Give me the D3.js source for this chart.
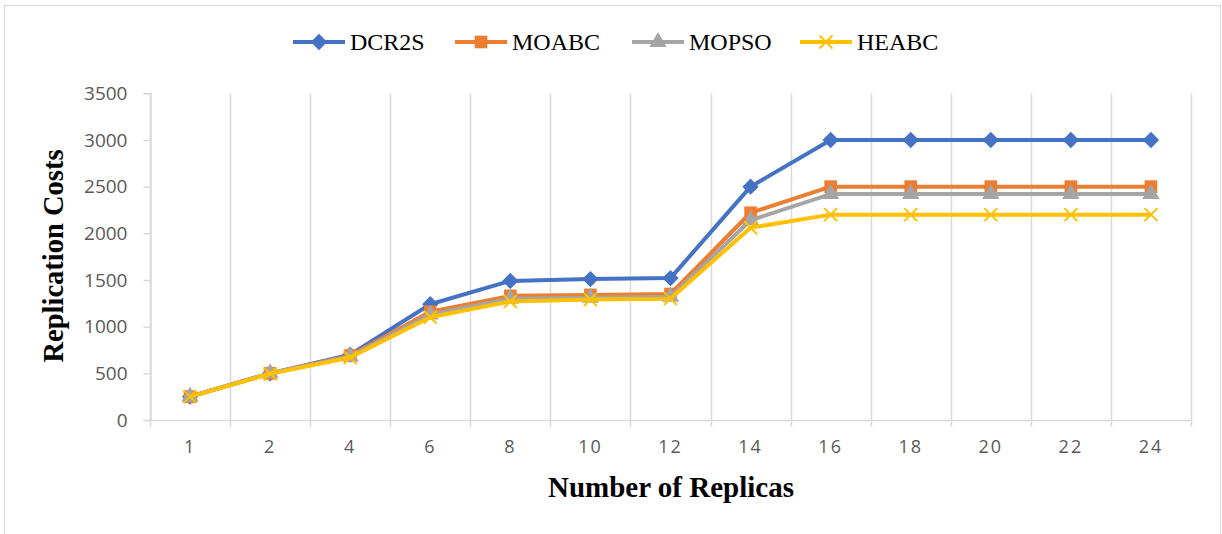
<!DOCTYPE html>
<html><head><meta charset="utf-8">
<script src="https://cdn.jsdelivr.net/npm/d3@7"></script>
<style>
body{margin:0;background:#fff;}
svg{display:block;}
</style></head>
<body>
<svg id="chart" width="1222" height="534"></svg>
<script>
const categories = ["1","2","4","6","8","10","12","14","16","18","20","22","24"];
const dcr2s = [250,500,700,1240,1490,1510,1520,2500,3000,3000,3000,3000,3000];
const moabc = [250,500,690,1160,1330,1340,1350,2220,2500,2500,2500,2500,2500];
const mopso = [250,500,680,1130,1300,1310,1320,2140,2420,2420,2420,2420,2420];
const heabc = [250,495,670,1100,1270,1290,1300,2060,2200,2200,2200,2200,2200];
const yTicks = [0,500,1000,1500,2000,2500,3000,3500];
const seriesNames = ["DCR2S","MOABC","MOPSO","HEABC"];

const series = [
  {name:seriesNames[0], values:dcr2s, color:"#4472C4", marker:"diamond"},
  {name:seriesNames[1], values:moabc, color:"#ED7D31", marker:"square"},
  {name:seriesNames[2], values:mopso, color:"#A5A5A5", marker:"triangle"},
  {name:seriesNames[3], values:heabc, color:"#FFC000", marker:"x"}
];

const svg = d3.select("#chart");
const pLeft=150, pRight=1191, pTop=93.3, pBottom=420;
const grid="#d9d9d9";

// outer border
svg.append("rect").attr("x",4.5).attr("y",5.5).attr("width",1216).attr("height",540)
  .attr("fill","none").attr("stroke",grid).attr("stroke-width",1);

const x = d3.scaleBand().domain(categories).range([pLeft,pRight]).paddingInner(0).paddingOuter(0);
const y = d3.scaleLinear().domain([0,3500]).range([pBottom,pTop]);

// vertical gridlines at category boundaries
const bounds = categories.map(c=>x(c)).concat([x(categories[categories.length-1])+x.bandwidth()]);
svg.append("g").selectAll("line").data(bounds).join("line")
  .attr("x1",d=>Math.round(d)+0.5).attr("x2",d=>Math.round(d)+0.5)
  .attr("y1",pTop).attr("y2",pBottom+7)
  .attr("stroke",grid).attr("stroke-width",1.5);

// y axis
const yAxis = svg.append("g").attr("transform",`translate(${pLeft+0.5},0)`)
  .call(d3.axisLeft(y).tickValues(yTicks).tickSize(7).tickPadding(16).tickFormat(d3.format("d")));
yAxis.select(".domain").attr("stroke",grid).attr("stroke-width",1.5);
yAxis.selectAll(".tick line").attr("stroke",grid).attr("stroke-width",1.5);
yAxis.selectAll("text").attr("fill","#595959").style("font-family","'Open Sans', sans-serif").style("font-size","19px");

// x axis
const xAxis = svg.append("g").attr("transform",`translate(0,${pBottom})`)
  .call(d3.axisBottom(x).tickSize(0).tickPadding(20));
xAxis.select(".domain").attr("stroke",grid).attr("stroke-width",1.5);
xAxis.selectAll("text").attr("fill","#595959").style("font-family","'Open Sans', sans-serif")
  .style("font-size","18px").style("letter-spacing","2px");

// lines
const line = d3.line().x((d,i)=>x(categories[i])+x.bandwidth()/2).y(d=>y(d));
const sym = {
  diamond: d3.symbol().type(d3.symbolDiamond2).size(170),
  square: d3.symbol().type(d3.symbolSquare).size(160),
  triangle: d3.symbol().type(d3.symbolTriangle).size(130)
};
function drawMarker(g, type, color, cx, cy, s){
  if(type==="x"){
    const r = s||6.5;
    g.append("path").attr("d",`M${cx-r},${cy-r}L${cx+r},${cy+r}M${cx-r},${cy+r}L${cx+r},${cy-r}`)
      .attr("stroke",color).attr("stroke-width",2).attr("fill","none");
  } else {
    g.append("path").attr("d",sym[type]()).attr("transform",`translate(${cx},${cy})`).attr("fill",color);
  }
}
series.forEach(s=>{
  const g = svg.append("g");
  g.append("path").datum(s.values).attr("d",line).attr("fill","none")
    .attr("stroke",s.color).attr("stroke-width",4).attr("stroke-linejoin","round");
  s.values.forEach((v,i)=>drawMarker(g,s.marker,s.color,x(categories[i])+x.bandwidth()/2,y(v)));
});

// legend
const legendX = [293,455,632,800];
series.forEach((s,i)=>{
  const g = svg.append("g");
  const lx = legendX[i], ly = 42;
  g.append("line").attr("x1",lx).attr("x2",lx+52).attr("y1",ly).attr("y2",ly)
    .attr("stroke",s.color).attr("stroke-width",4);
  drawMarker(g,s.marker,s.color,lx+26,ly);
  g.append("text").attr("x",lx+57).attr("y",ly+8).text(s.name)
    .style("font-family","'Liberation Serif', 'Times New Roman', serif").style("font-size","24px").attr("fill","#000");
});

// axis titles
svg.append("text").attr("transform","translate(63,256) rotate(-90)").attr("text-anchor","middle")
  .text("Replication Costs").style("font-family","'Liberation Serif', 'Times New Roman', serif")
  .style("font-size","28.5px").style("font-weight","bold").attr("fill","#000");
svg.append("text").attr("x",671).attr("y",497).attr("text-anchor","middle")
  .text("Number of Replicas").style("font-family","'Liberation Serif', 'Times New Roman', serif")
  .style("font-size","29px").style("font-weight","bold").attr("fill","#000");
</script>
</body></html>
